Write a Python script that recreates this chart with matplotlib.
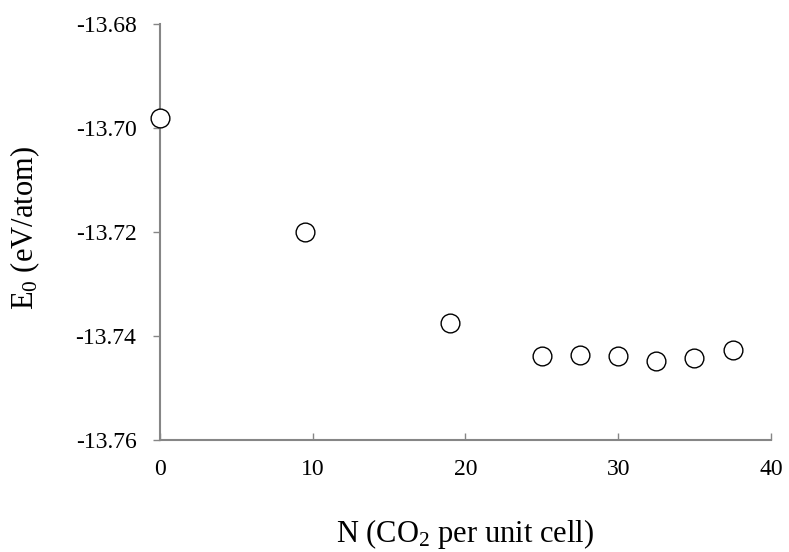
import matplotlib
matplotlib.use("Agg")
import matplotlib.pyplot as plt

# DATA

n_co2 = [0, 9.5, 19, 25, 27.5, 30, 32.5, 35, 37.5]
e0 = [-13.6981, -13.7200, -13.7375, -13.7438, -13.7437, -13.7438, -13.7448, -13.7443, -13.7427]

plt.rcParams["font.family"] = ["Liberation Serif", "DejaVu Serif"]
plt.rcParams["mathtext.fontset"] = "custom"
plt.rcParams["mathtext.rm"] = "Liberation Serif"
plt.rcParams["mathtext.it"] = "Liberation Serif:italic"
plt.rcParams["mathtext.bf"] = "Liberation Serif:bold"

fig = plt.figure(figsize=(7.89, 5.52), dpi=100)
ax = fig.add_axes([0.2028, 0.2029, 0.977 - 0.2028, 0.9565 - 0.2029])

ax.plot(n_co2, e0, linestyle="none", marker="o", markersize=13.5,
        markerfacecolor="white", markeredgecolor="black", markeredgewidth=1.0,
        clip_on=False, zorder=3)

ax.set_xlim(0, 40)
ax.set_ylim(-13.76, -13.68)
ax.set_xticks([0, 10, 20, 30, 40])
ax.set_yticks([-13.76, -13.74, -13.72, -13.70, -13.68])
ax.set_yticklabels(["-13.76", "-13.74", "-13.72", "-13.70", "-13.68"])

for s in ["top", "right"]:
    ax.spines[s].set_visible(False)
for s in ["left", "bottom"]:
    ax.spines[s].set_color("#868686")
    ax.spines[s].set_linewidth(1.5)

ax.tick_params(axis="y", direction="out", length=5, color="#868686", width=1,
               labelsize=17, pad=12)
ax.tick_params(axis="x", direction="in", length=5, color="#868686", width=1,
               labelsize=17, pad=14)

ax.set_xlabel("N (CO$\\mathrm{_2}$ per unit cell)", fontsize=22, labelpad=26)
ax.set_ylabel("E$\\mathrm{_0}$ (eV/atom)", fontsize=22)
ax.yaxis.set_label_coords(-0.193, 0.51)

fig.savefig("out.png", dpi=100)
